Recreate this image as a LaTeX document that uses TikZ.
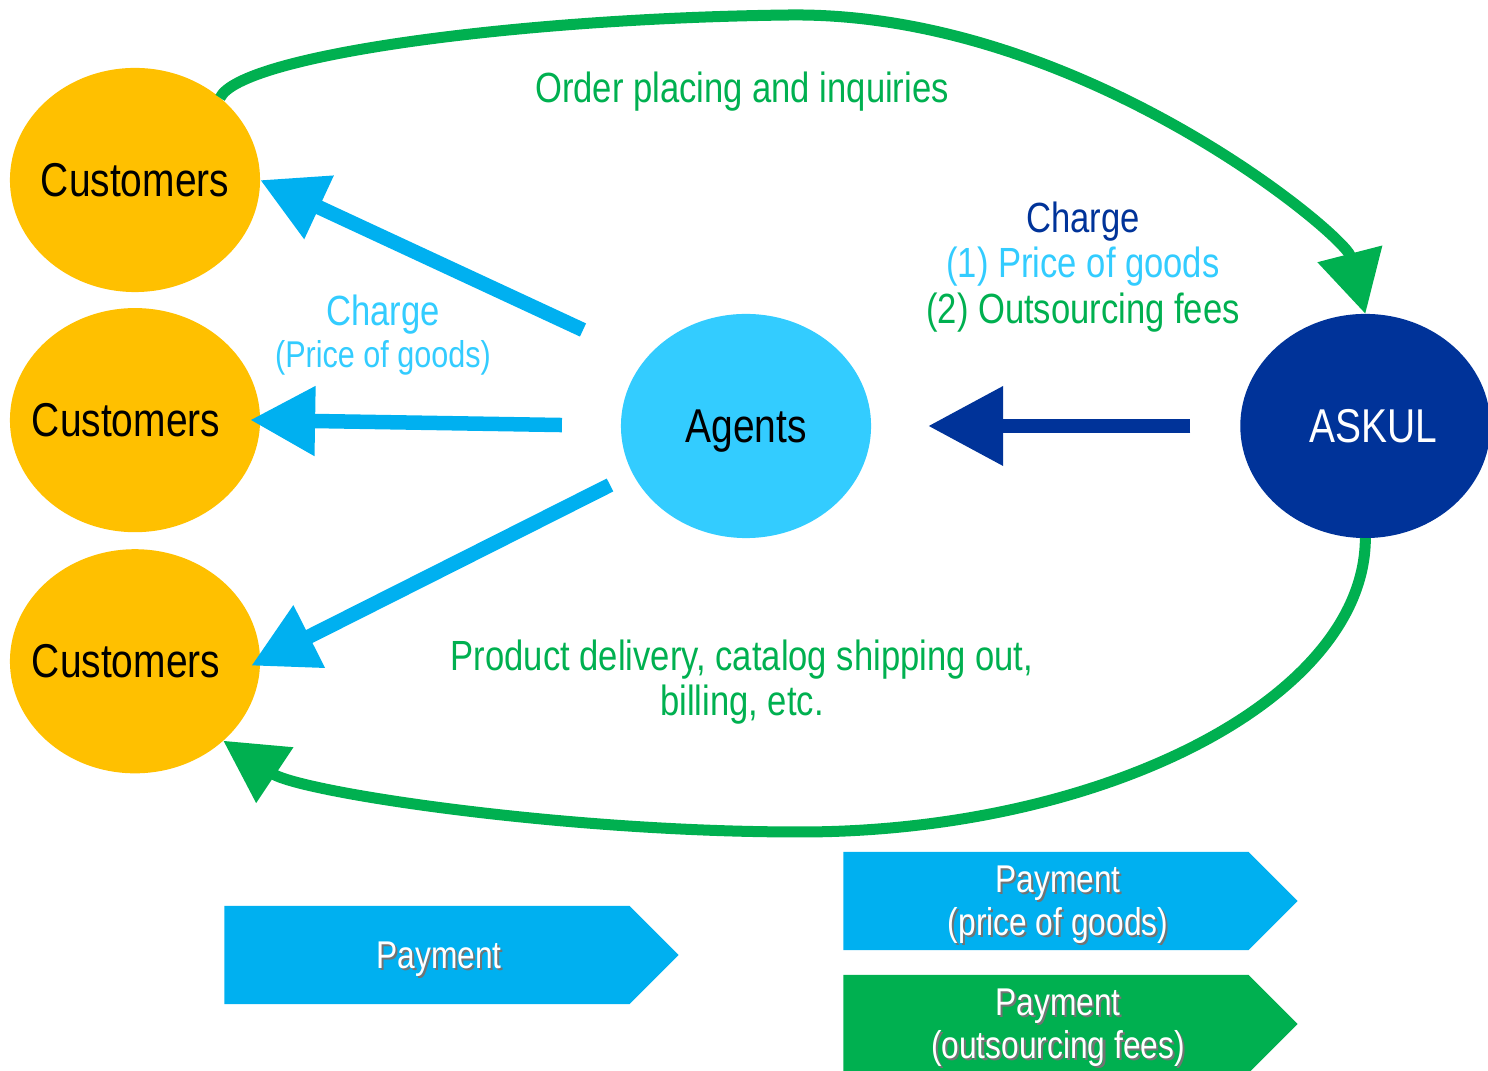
\documentclass[tikz,border=0pt]{standalone}
\usepackage{fontspec}
\setmainfont{Liberation Sans}[FakeStretch=0.82]
\usetikzlibrary{positioning,shapes.geometric,shapes.symbols,arrows.meta}

\definecolor{custorange}{HTML}{FFC000}
\definecolor{agentcyan}{HTML}{33CCFF}
\definecolor{paycyan}{HTML}{00B0F0}
\definecolor{askulnavy}{HTML}{003399}
\definecolor{flowgreen}{HTML}{00B050}

% white box text with a thin dark shadow under it, set a bit off the pointer
\newcommand{\shadowed}[1]{\hspace*{0.24cm}\leavevmode\rlap{\hspace{0.6pt}\raisebox{-0.6pt}{\color{black!55}#1}}#1}

\begin{document}
\begin{tikzpicture}[x=0.01cm,y=-0.01cm,
    party/.style={ellipse, inner sep=0pt, outer sep=0pt, minimum width=2.5cm, minimum height=2.24cm,
                  text depth=0pt, font=\fontsize{13.5}{15}\selectfont},
    paybox/.style={signal, signal to=east, signal pointer angle=90, text=white, inner sep=0pt, text depth=0pt,
                   minimum width=4.54cm, minimum height=0.98cm, align=center, font=\fontsize{11}{12.2}\selectfont},
    bluearrow/.style={draw=paycyan, line width=0.145cm, -{Triangle[length=0.65cm,width=0.66cm]}},
    greenarrow/.style={draw=flowgreen, line width=0.11cm, -{Triangle[length=0.62cm,width=0.64cm]}},
    flowtext/.style={align=center, font=\fontsize{12}{13}\selectfont}]
    \useasboundingbox (0,0) rectangle (1488,1071);

    % parties
    \node[party, fill=custorange] (c1) at (135,180) {\makebox[0pt]{Customers}};
    \node[party, fill=custorange, below=0.16cm of c1] (c2) {\makebox[0pt]{Customers\hspace{0.18cm}}};
    \node[party, fill=custorange, below=0.17cm of c2] (c3) {\makebox[0pt]{Customers\hspace{0.18cm}}};
    \node[party, fill=agentcyan] (agents) at (746,426) {\makebox[0pt]{Agents}};
    \node[party, fill=askulnavy, text=white, right=3.69cm of agents] (askul) {\makebox[0pt]{\hspace{0.16cm}ASKUL}};

    % agents charge the customers
    \coordinate (a1) at (583,330);
    \coordinate (a3) at (610,485);
    \draw[bluearrow] (a1) -- (c1.east);
    \draw[bluearrow, shorten <=0.59cm, shorten >=-0.1cm] (agents.west) -- (c2.east);
    \draw[bluearrow, shorten >=-0.1cm] (a3) -- (c3.east);

    % askul charges the agents
    \draw[draw=askulnavy, line width=0.14cm, -{Triangle[length=0.75cm,width=0.76cm]},
          shorten <=0.5cm, shorten >=0.57cm] (askul.west) -- (agents.east);

    % orders go round the top, deliveries come back round the bottom
    \draw[greenarrow] (c1.44) .. controls (240,55) and (520,18) .. (790,15)
                              .. controls (1080,12) and (1345,235) .. (askul.north);
    \draw[greenarrow] (askul.south) .. controls (1365,700) and (1100,832) .. (800,832)
                                    .. controls (560,832) and (300,792) .. (c3.-42);

    % labels
    \node[flowtext, text=flowgreen] (order) at (742,92) {Order placing and inquiries};
    \node[align=center, text=agentcyan, font=\fontsize{10.6}{12}\selectfont] (agentcharge) at (383,335)
        {{\fontsize{12}{13}\selectfont Charge}\\(Price of goods)};
    \node[flowtext] (askulcharge) at (1083,267)
        {\textcolor{askulnavy}{Charge}\\\textcolor{agentcyan}{(1) Price of goods}\\\textcolor{flowgreen}{(2) Outsourcing fees}};
    \node[flowtext, text=flowgreen] (delivery) at (742,682) {Product delivery, catalog shipping out,\\billing, etc.};

    % payments
    \node[paybox, fill=paycyan] (pay) at (427,955) {\shadowed{Payment}};
    \node[paybox, fill=paycyan] (paygoods) at (1046,901) {\shadowed{Payment}\\\shadowed{(price of goods)}};
    \node[paybox, fill=flowgreen] (payfees) at (1046,1024) {\shadowed{Payment}\\\shadowed{(outsourcing fees)}};
\end{tikzpicture}
\end{document}
